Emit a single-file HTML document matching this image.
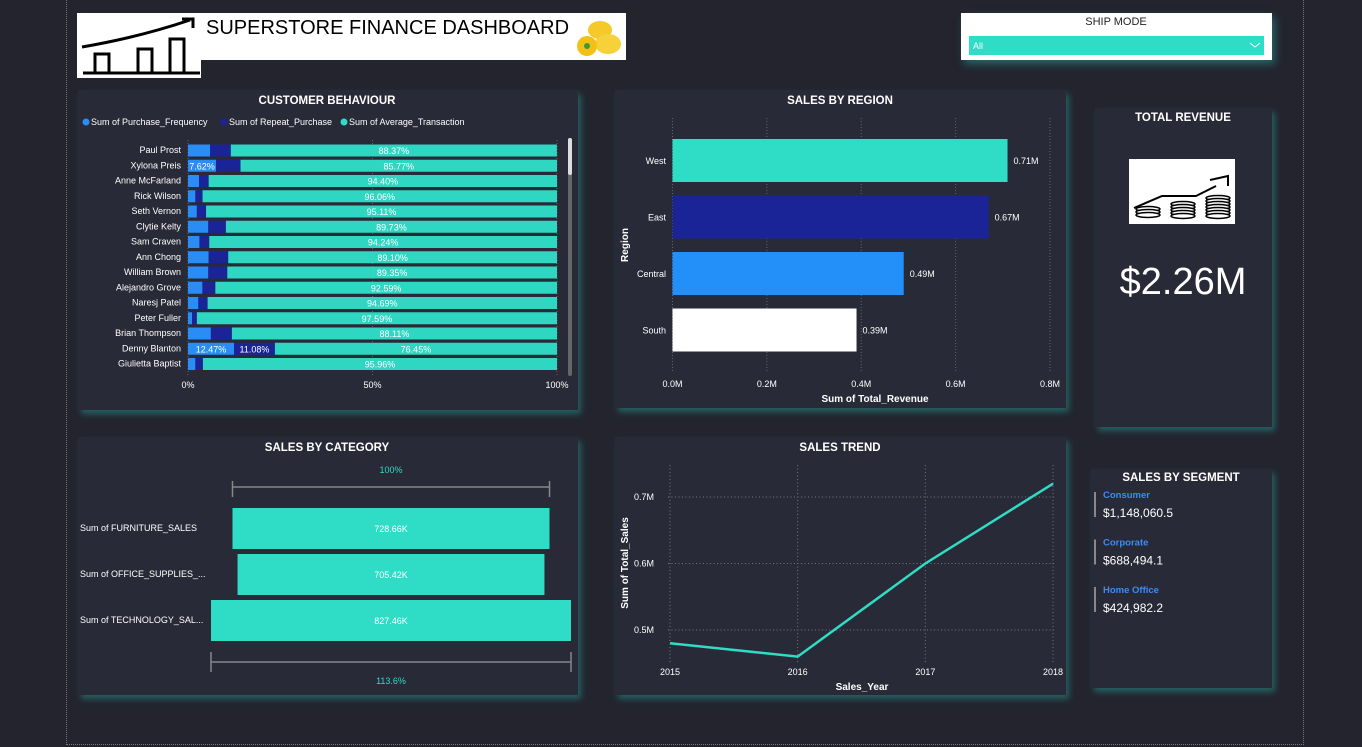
<!DOCTYPE html>
<html><head><meta charset="utf-8"><style>
body{margin:0;width:1362px;height:747px;background:#23242e;font-family:"Liberation Sans",sans-serif;overflow:hidden;position:relative}
.p{position:absolute;background:#292a37;box-shadow:3px 4px 6px rgba(40,170,160,.45)}
svg{position:absolute;left:0;top:0}
svg text{font-family:"Liberation Sans",sans-serif}
</style></head><body>
<div style="position:absolute;left:66px;top:-2px;width:1236px;height:745px;border:1px dotted #777"></div>
<div class="p" style="left:78px;top:90px;width:500px;height:320px"></div>
<div class="p" style="left:615px;top:90px;width:451px;height:318px"></div>
<div class="p" style="left:1095px;top:108px;width:177px;height:319px"></div>
<div class="p" style="left:78px;top:437px;width:500px;height:258px"></div>
<div class="p" style="left:615px;top:437px;width:451px;height:258px"></div>
<div class="p" style="left:1091px;top:469px;width:181px;height:219px"></div>
<div style="position:absolute;left:77px;top:13px;width:549px;height:47px;background:#fff"></div>
<div style="position:absolute;left:77px;top:13px;width:124px;height:65px;background:#fff"></div>
<div style="position:absolute;left:961px;top:13px;width:311px;height:47px;background:#fff;box-shadow:3px 4px 8px rgba(40,170,160,.5)"></div>
<svg id="s" width="1362" height="747"></svg>
<script>
const NS="http://www.w3.org/2000/svg";const S=document.getElementById('s');
function el(t,a,txt){const e=document.createElementNS(NS,t);for(const k in a)e.setAttribute(k,a[k]);if(txt!==undefined)e.textContent=txt;S.appendChild(e);return e;}
function T(x,y,s,o){return el('text',Object.assign({x:x,y:y,fill:'#fff','font-size':9},o||{}),s);}

// Banner
let e;
e=T(206,34,'SUPERSTORE FINANCE DASHBOARD',{fill:'#000','font-size':20});

e=el('g',{stroke:'#000','stroke-width':3,fill:'none'});

[[95,54,14,19],[138,49,14,24],[170,39,14,34]].forEach(r=>{const q=document.createElementNS(NS,'rect');q.setAttribute('x',r[0]);q.setAttribute('y',r[1]);q.setAttribute('width',r[2]);q.setAttribute('height',r[3]);e.appendChild(q);});
const ln=document.createElementNS(NS,'path');ln.setAttribute('d','M83 73H200M82 47Q140 37 190 20M182 19H193V28');e.appendChild(ln);
e=el('g',{});
el('ellipse',{cx:600,cy:30,rx:12,ry:9,fill:'#f5c92a'});el('ellipse',{cx:608,cy:44,rx:13,ry:10,fill:'#f7d13a'});el('circle',{cx:587,cy:46,r:10,fill:'#f3c018'});el('circle',{cx:587,cy:46,r:3,fill:'#3a9a3a'});
// Ship mode
e=T(1116,25,'SHIP MODE',{fill:'#222','font-size':11,'text-anchor':'middle'});
e=el('rect',{x:969,y:36,width:295,height:19,fill:'#2fdcc6'});
T(973,49,'All',{'font-size':9});el('path',{d:'M1250 43l5 4 5-4',stroke:'#fff',fill:'none'});

// ===== Customer behaviour =====
const custNames=['Paul Prost','Xylona Preis','Anne McFarland','Rick Wilson','Seth Vernon','Clytie Kelty','Sam Craven','Ann Chong','William Brown','Alejandro Grove','Naresj Patel','Peter Fuller','Brian Thompson','Denny Blanton','Giulietta Baptist'];
const purchaseFreq=[6.0,7.62,3.0,2.0,2.4,5.5,3.1,5.6,5.5,3.9,2.8,1.1,6.2,12.47,2.0];
const repeatPurchase=[5.6,6.61,2.6,1.94,2.49,4.77,2.66,5.3,5.15,3.51,2.51,1.31,5.69,11.08,2.04];
const avgTransaction=[88.37,85.77,94.40,96.06,95.11,89.73,94.24,89.10,89.35,92.59,94.69,97.59,88.11,76.45,95.96];
const custTicks=['0%','50%','100%'];
T(327,104,'CUSTOMER BEHAVIOUR',{'font-size':11.5,'font-weight':'bold','text-anchor':'middle'});
[['#2a8cf5','Sum of Purchase_Frequency',82],['#1a2496','Sum of Repeat_Purchase',220],['#2fdcc6','Sum of Average_Transaction',340]].forEach(l=>{
 e=el('circle',{cx:l[2]+4,cy:122,r:3.5,fill:l[0]});
 T(l[2]+9,125,l[1],{'font-size':9});});
const cx0=188,cx1=557;const px=v=>cx0+(cx1-cx0)*v/100;
custTicks.forEach((t,i)=>{const x=cx0+(cx1-cx0)*i/2;el('line',{x1:x,x2:x,y1:140,y2:375,stroke:'#666','stroke-dasharray':'1 2'});T(x,388,t,{'text-anchor':'middle','font-size':9});});
custNames.forEach((n,i)=>{const y=144.5+i*15.25;
 T(181,y+8.5,n,{'text-anchor':'end','font-size':9});
 const vals=[purchaseFreq[i],repeatPurchase[i],avgTransaction[i]];const cols=['#2a8cf5','#1a2496','#2fd6c2'];let acc=0;
 vals.forEach((v,j)=>{e=el('rect',{x:px(acc),y:y,width:px(acc+v)-px(acc),height:12,fill:cols[j]});
  
  if(j==2||v>7)T((px(acc)+px(acc+v))/2,y+9.5,v.toFixed(2)+'%',{'text-anchor':'middle','font-size':9});acc+=v;});
});
el('rect',{x:568,y:138,width:4,height:238,rx:2,fill:'#666'});el('rect',{x:568,y:138,width:4,height:37,rx:2,fill:'#ddd'});

// ===== Sales by region =====
const regions=['West','East','Central','South'];
const regionRevenue=[0.71,0.67,0.49,0.39];
const regionTicks=[0,0.2,0.4,0.6,0.8];
const rColors=['#2fdcc6','#1a2496','#2290f8','#ffffff'];
T(840,104,'SALES BY REGION',{'font-size':11.5,'font-weight':'bold','text-anchor':'middle'});
const rx0=672.5,rx1=1050;const rx=v=>rx0+(rx1-rx0)*v/0.8;
regionTicks.forEach(t=>{el('line',{x1:rx(t),x2:rx(t),y1:118,y2:372,stroke:'#666','stroke-dasharray':'1 2'});T(rx(t),387,t.toFixed(1)+'M',{'text-anchor':'middle','font-size':9});});
regions.forEach((r,i)=>{const y=139+i*56.5;
 e=el('rect',{x:rx0,y:y,width:rx(regionRevenue[i])-rx0,height:43,fill:rColors[i]});
 T(666,y+25,r,{'text-anchor':'end','font-size':9});T(rx(regionRevenue[i])+6,y+25,regionRevenue[i].toFixed(2)+'M',{'font-size':9});});
T(875,402,'Sum of Total_Revenue',{'text-anchor':'middle','font-size':10,'font-weight':'bold'});
T(0,0,'Region',{'text-anchor':'middle','font-size':10,'font-weight':'bold',transform:'translate(628,245) rotate(-90)'});

// ===== Total revenue =====
T(1183,121,'TOTAL REVENUE',{'font-size':11.5,'font-weight':'bold','text-anchor':'middle'});
e=el('rect',{x:1129,y:159,width:106,height:65,fill:'#fff'});
el('path',{d:'M1134 208L1162 196H1196L1216 186M1210 180L1228 176V186',stroke:'#000','stroke-width':2,fill:'none'});
[[1148,209,8],[1183,204,13],[1218,198,19]].forEach(c=>{for(let k=0;k<c[2];k+=3)el('ellipse',{cx:c[0],cy:c[1]+k,rx:12,ry:2.5,fill:'#fff',stroke:'#000','stroke-width':1.5});});
e=T(1183,294,'$2.26M',{'font-size':38,'text-anchor':'middle'});

// ===== Sales by category (funnel) =====
const categories=['Sum of FURNITURE_SALES','Sum of OFFICE_SUPPLIES_...','Sum of TECHNOLOGY_SAL...'];
const categorySales=[728.66,705.42,827.46];
T(327,451,'SALES BY CATEGORY',{'font-size':11.5,'font-weight':'bold','text-anchor':'middle'});
const fc=391,maxV=Math.max(...categorySales),fw=v=>v/maxV*360;
categories.forEach((c,i)=>{const y=508+i*46,w=fw(categorySales[i]);
 e=el('rect',{x:fc-w/2,y:y,width:w,height:41,fill:'#2fdcc6'});
 T(fc,y+24,categorySales[i].toFixed(2)+'K',{'text-anchor':'middle','font-size':9});T(80,y+23,c,{'font-size':9});});
const w0=fw(categorySales[0]),w2=fw(categorySales[2]);
el('path',{d:`M${fc-w0/2} 481V497M${fc-w0/2} 487H${fc+w0/2}M${fc+w0/2} 481V497`,stroke:'#888','stroke-width':1.5,fill:'none'});
el('path',{d:`M${fc-w2/2} 652V672M${fc-w2/2} 662H${fc+w2/2}M${fc+w2/2} 652V672`,stroke:'#888','stroke-width':1.5,fill:'none'});
T(fc,473,'100%',{'text-anchor':'middle','font-size':9,fill:'#2fdcc6'});
T(fc,684,(categorySales[2]/categorySales[0]*100).toFixed(1)+'%',{'text-anchor':'middle','font-size':9,fill:'#2fdcc6'});

// ===== Sales trend =====
const years=['2015','2016','2017','2018'];
const yearSales=[0.48,0.46,0.60,0.72];
const trendTicks=[0.5,0.6,0.7];
T(840,451,'SALES TREND',{'font-size':11.5,'font-weight':'bold','text-anchor':'middle'});
const tx0=670,tx1=1053,ty=v=>630-(v-0.5)/0.1*66.5;const tx=i=>tx0+(tx1-tx0)*i/(years.length-1);
trendTicks.forEach(t=>{el('line',{x1:668,x2:1056,y1:ty(t),y2:ty(t),stroke:'#777','stroke-dasharray':'1 2.5'});T(654,ty(t)+3,t.toFixed(1)+'M',{'text-anchor':'end','font-size':9});});
years.forEach((yr,i)=>{el('line',{x1:tx(i),x2:tx(i),y1:465,y2:662,stroke:'#777','stroke-dasharray':'1 2.5'});T(tx(i),675,yr,{'text-anchor':'middle','font-size':9});});
e=el('polyline',{points:yearSales.map((v,i)=>tx(i)+','+ty(v)).join(' '),fill:'none',stroke:'#2fdcc6','stroke-width':2.5});

T(862,690,'Sales_Year',{'text-anchor':'middle','font-size':10,'font-weight':'bold'});
T(0,0,'Sum of Total_Sales',{'text-anchor':'middle','font-size':10,'font-weight':'bold',transform:'translate(628,563) rotate(-90)'});

// ===== Sales by segment =====
const segments=['Consumer','Corporate','Home Office'];
const segmentSales=['$1,148,060.5','$688,494.1','$424,982.2'];
T(1181,481,'SALES BY SEGMENT',{'font-size':11.5,'font-weight':'bold','text-anchor':'middle'});
segments.forEach((s,i)=>{const y=489+i*47.5;
 el('rect',{x:1094,y:y+3,width:2,height:25,fill:'#888'});
 e=T(1103,y+9,s,{'font-size':9.5,'font-weight':'bold',fill:'#3a8df5'});
 T(1103,y+28,segmentSales[i],{'font-size':12});});
</script>
</body></html>
